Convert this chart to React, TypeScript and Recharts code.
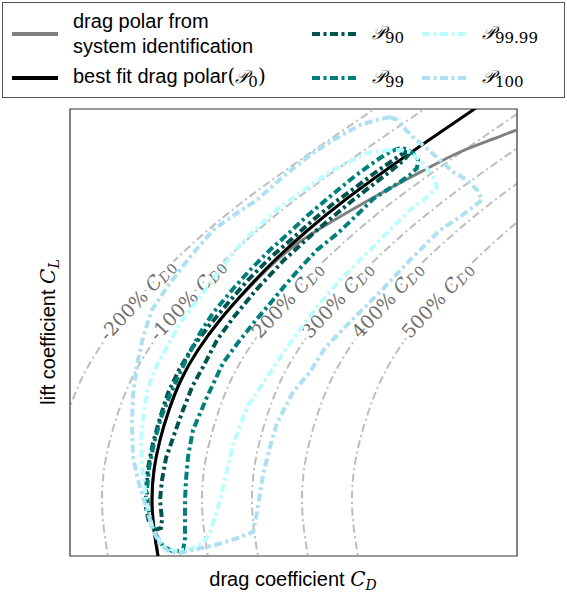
import React from "react";
import {
  ComposedChart,
  Line,
  Scatter,
  XAxis,
  YAxis,
  ReferenceArea,
  Legend,
} from "recharts";

// points are [C_D, C_L] in chart units (no ticks in the original)
const BEST_FIT: number[][] = [
  [90, -10], [88, 0], [84, 26], [82, 56], [84, 86], [90, 116], [99, 146],
  [111, 176], [128, 206], [150, 236], [176, 266], [205, 296], [238, 326],
  [275, 356], [316, 386], [359, 416], [403, 446], [426, 461],
];

const SYS_ID: number[][] = [
  [88, -10], [88, 0], [84, 29], [82, 56], [84, 86], [90, 116], [99, 146],
  [111, 176], [128, 206], [150, 236], [177, 266], [205, 294], [228, 313],
  [256, 331], [292, 352], [326, 371], [360, 389], [390, 404], [423, 417],
  [447, 426], [470, 433],
];

const P90: number[][] = [
  [337, 405], [332, 402], [322, 395], [306, 384], [286, 369], [264, 353],
  [243, 336], [223, 318], [200, 298], [178, 276], [158, 253], [138, 229],
  [122, 208], [109, 186], [98, 163], [90, 138], [83, 113], [78, 88], [76, 66],
  [76, 48], [79, 34], [85, 26], [91, 28], [92, 36], [90, 56], [92, 76],
  [96, 98], [104, 121], [113, 146], [122, 169], [133, 189], [147, 216],
  [163, 238], [186, 266], [214, 296], [247, 326], [283, 356], [322, 386],
  [334, 396], [339, 402], [337, 405],
];

const P99: number[][] = [
  [330, 408], [320, 404], [310, 398], [300, 391], [285, 380], [263, 362],
  [237, 340], [220, 324], [200, 306], [180, 286], [163, 267], [143, 243],
  [130, 223], [120, 204], [110, 183], [100, 161], [91, 138], [84, 113],
  [79, 88], [77, 66], [78, 49], [81, 34], [86, 21], [93, 10], [102, 5],
  [113, 5], [115, 18], [115, 36], [115, 56], [116, 76], [118, 99], [123, 126],
  [137, 159], [153, 193], [170, 216], [186, 236], [203, 256], [217, 273],
  [233, 291], [247, 306], [268, 323], [290, 344], [303, 357], [317, 366],
  [330, 374], [340, 381], [347, 388], [348, 396], [343, 403], [335, 407],
  [330, 408],
];

const P9999: number[][] = [
  [320, 406], [297, 403], [263, 386], [230, 363], [210, 349], [190, 331],
  [170, 311], [150, 286], [130, 259], [110, 233], [98, 211], [87, 191],
  [79, 171], [74, 146], [71, 116], [72, 91], [75, 66], [78, 46], [83, 26],
  [92, 11], [105, 5], [120, 7], [133, 13], [140, 23], [145, 39], [150, 56],
  [156, 81], [163, 111], [177, 149], [200, 183], [217, 209], [247, 249],
  [270, 276], [297, 303], [323, 329], [340, 346], [357, 359], [367, 369],
  [363, 379], [353, 393], [340, 404], [330, 406], [320, 406],
];

const P100: number[][] = [
  [320, 439], [303, 435], [290, 431], [263, 416], [240, 401], [215, 381],
  [187, 356], [167, 343], [143, 326], [120, 299], [97, 269], [82, 246],
  [73, 219], [67, 191], [63, 161], [62, 131], [63, 99], [68, 76], [73, 59],
  [78, 43], [83, 26], [90, 11], [100, 4], [110, 3], [127, 7], [145, 11],
  [165, 17], [183, 24], [186, 38], [189, 56], [193, 81], [200, 109],
  [207, 133], [223, 164], [240, 184], [255, 208], [280, 234], [310, 264],
  [340, 296], [370, 326], [390, 339], [412, 356], [407, 366], [397, 376],
  [383, 384], [370, 396], [355, 409], [343, 419], [333, 429], [327, 436],
  [320, 439],
];

// reference polars: best fit with shifted C_D0
const REF_SHIFTS = [-100, -50, 50, 100, 150, 200];
const REF_LABELS = ["-200%", "-100%", "200%", "300%", "400%", "500%"];
const LABEL_CL = 256;

const toPts = (arr: number[][]) => arr.map(([cd, cl]) => ({ cd, cl }));

const cdAt = (curve: number[][], cl: number) => {
  for (let i = 1; i < curve.length; i++) {
    const [x0, y0] = curve[i - 1];
    const [x1, y1] = curve[i];
    if (cl >= y0 && cl <= y1) return x0 + ((cl - y0) / (y1 - y0)) * (x1 - x0);
  }
  return curve[0][0];
};

const refCurves = REF_SHIFTS.map((s) =>
  BEST_FIT.map(([cd, cl]) => ({ cd: cd + s, cl }))
);
const labelPts = REF_SHIFTS.map((s, i) => ({
  cd: cdAt(BEST_FIT, LABEL_CL) + s,
  cl: LABEL_CL,
  label: REF_LABELS[i],
}));

const DASH = "8 3.5 3 3.5";
const SERIF = '"DejaVu Serif", serif';

const LEGEND_ITEMS = [
  { key: "sys", color: "#808080", dash: undefined, left: 9, top: 31 },
  { key: "fit", color: "#000000", dash: undefined, left: 9, top: 75 },
  { key: "p90", color: "#005450", dash: DASH, left: 309, top: 31, sub: "90" },
  { key: "p99", color: "#00807c", dash: DASH, left: 309, top: 75, sub: "99" },
  { key: "p9999", color: "#b9fdff", dash: DASH, left: 419, top: 31, sub: "99.99" },
  { key: "p100", color: "#ade0f2", dash: DASH, left: 419, top: 75, sub: "100" },
];

const MathP = ({ sub }: { sub: string }) => (
  <span style={{ fontFamily: SERIF }}>
    <span style={{ fontStyle: "italic", fontSize: 18 }}>𝒫</span>
    <sub style={{ fontSize: 15, verticalAlign: "-4px" }}>{sub}</sub>
  </span>
);

const LegendBox = () => (
  <div
    style={{
      position: "relative",
      width: 563,
      height: 96,
      boxSizing: "border-box",
      border: "1.5px solid #555",
      background: "#fff",
      fontFamily: '"Liberation Sans", Arial, sans-serif',
      fontSize: 20,
      color: "#000",
    }}
  >
    {LEGEND_ITEMS.map((it) => (
      <svg
        key={it.key}
        width={46}
        height={8}
        style={{ position: "absolute", left: it.left, top: it.top - 4 }}
      >
        <line x1={0} y1={4} x2={46} y2={4} stroke={it.color} strokeWidth={4}
          strokeDasharray={it.dash} />
      </svg>
    ))}
    <div style={{ position: "absolute", left: 70, top: 6, lineHeight: "25px", whiteSpace: "nowrap" }}>
      drag polar from
      <br />
      system identification
    </div>
    <div style={{ position: "absolute", left: 70, top: 61, lineHeight: "25px", whiteSpace: "nowrap" }}>
      best fit drag polar<span style={{ fontFamily: SERIF }}>(</span>
      <MathP sub="0" />
      <span style={{ fontFamily: SERIF }}>)</span>
    </div>
    {LEGEND_ITEMS.filter((it) => it.sub).map((it) => (
      <div
        key={it.key + "-t"}
        style={{ position: "absolute", left: it.left + 60, top: it.top - 14, lineHeight: "25px", whiteSpace: "nowrap" }}
      >
        <MathP sub={it.sub as string} />
      </div>
    ))}
  </div>
);

const RefLabel = (props: any) => {
  const { cx, cy, payload } = props;
  if (cx == null || cy == null) return null;
  return (
    <text
      x={cx}
      y={cy}
      transform={`rotate(-47 ${cx} ${cy})`}
      textAnchor="middle"
      dominantBaseline="central"
      fontFamily={SERIF}
      fontSize={19}
      fill="#6e6e6e"
      stroke="#fff"
      strokeWidth={7}
      strokeLinejoin="round"
      paintOrder="stroke"
    >
      {payload.label}{" "}
      <tspan fontStyle="italic">C</tspan>
      <tspan fontSize={14} dy={4} fontStyle="italic">D</tspan>
      <tspan fontSize={14}>0</tspan>
    </text>
  );
};

const XTitle = () => (
  <text x={293} y={586} textAnchor="middle" fontFamily='"Liberation Sans", Arial, sans-serif' fontSize={20} fill="#000">
    drag coefficient{" "}
    <tspan fontFamily={SERIF} fontStyle="italic">C</tspan>
    <tspan fontFamily={SERIF} fontStyle="italic" fontSize={14} dy={4}>D</tspan>
  </text>
);

const YTitle = () => (
  <text x={55} y={332} transform="rotate(-90 55 332)" textAnchor="middle"
    fontFamily='"Liberation Sans", Arial, sans-serif' fontSize={20} fill="#000">
    lift coefficient{" "}
    <tspan fontFamily={SERIF} fontStyle="italic">C</tspan>
    <tspan fontFamily={SERIF} fontStyle="italic" fontSize={14} dy={4}>L</tspan>
  </text>
);

export default function App() {
  return (
    <div style={{ position: "absolute", left: 0, top: 0, width: 567, height: 595, background: "#fff" }}>
      <ComposedChart width={567} height={595} margin={{ top: 109, right: 50, bottom: 0, left: 0 }}>
        <XAxis type="number" dataKey="cd" domain={[0, 447]} allowDataOverflow
          tick={false} tickLine={false} axisLine={false} height={39}
          label={{ content: () => <XTitle /> }} />
        <YAxis type="number" dataKey="cl" domain={[0, 447]} allowDataOverflow
          tick={false} tickLine={false} axisLine={false} width={70}
          label={{ content: () => <YTitle /> }} />
        <Legend verticalAlign="middle" align="center" layout="horizontal"
          wrapperStyle={{ left: 2, top: 2, width: 563, height: 96 }}
          content={() => <LegendBox />} />
        {refCurves.map((c, i) => (
          <Line key={"ref" + i} data={c} dataKey="cl" type="natural" stroke="#bdbdbd"
            strokeWidth={2} strokeDasharray="8 3.5 2 3.5" dot={false} activeDot={false}
            isAnimationActive={false} zIndex={100} />
        ))}
        <Scatter data={labelPts} dataKey="cl" shape={RefLabel} isAnimationActive={false} zIndex={101} />
        <Line data={toPts(SYS_ID)} dataKey="cl" type="natural" stroke="#808080" strokeWidth={3}
          dot={false} activeDot={false} isAnimationActive={false} zIndex={102} />
        <Line data={toPts(BEST_FIT)} dataKey="cl" type="natural" stroke="#000" strokeWidth={3}
          dot={false} activeDot={false} isAnimationActive={false} zIndex={103} />
        <Line data={toPts(P90)} dataKey="cl" type="linear" stroke="#005450" strokeWidth={4}
          strokeDasharray={DASH} dot={false} activeDot={false} isAnimationActive={false} zIndex={104} />
        <Line data={toPts(P99)} dataKey="cl" type="linear" stroke="#00807c" strokeWidth={4}
          strokeDasharray={DASH} dot={false} activeDot={false} isAnimationActive={false} zIndex={105} />
        <Line data={toPts(P9999)} dataKey="cl" type="linear" stroke="#b9fdff" strokeWidth={4}
          strokeDasharray={DASH} dot={false} activeDot={false} isAnimationActive={false} zIndex={106} />
        <Line data={toPts(P100)} dataKey="cl" type="linear" stroke="#ade0f2" strokeWidth={4}
          strokeDasharray={DASH} dot={false} activeDot={false} isAnimationActive={false} zIndex={107} />
        <ReferenceArea x1={0} x2={447} y1={0} y2={447} fill="none" fillOpacity={0}
          stroke="#333" strokeWidth={1.2} ifOverflow="visible" />
      </ComposedChart>
    </div>
  );
}
